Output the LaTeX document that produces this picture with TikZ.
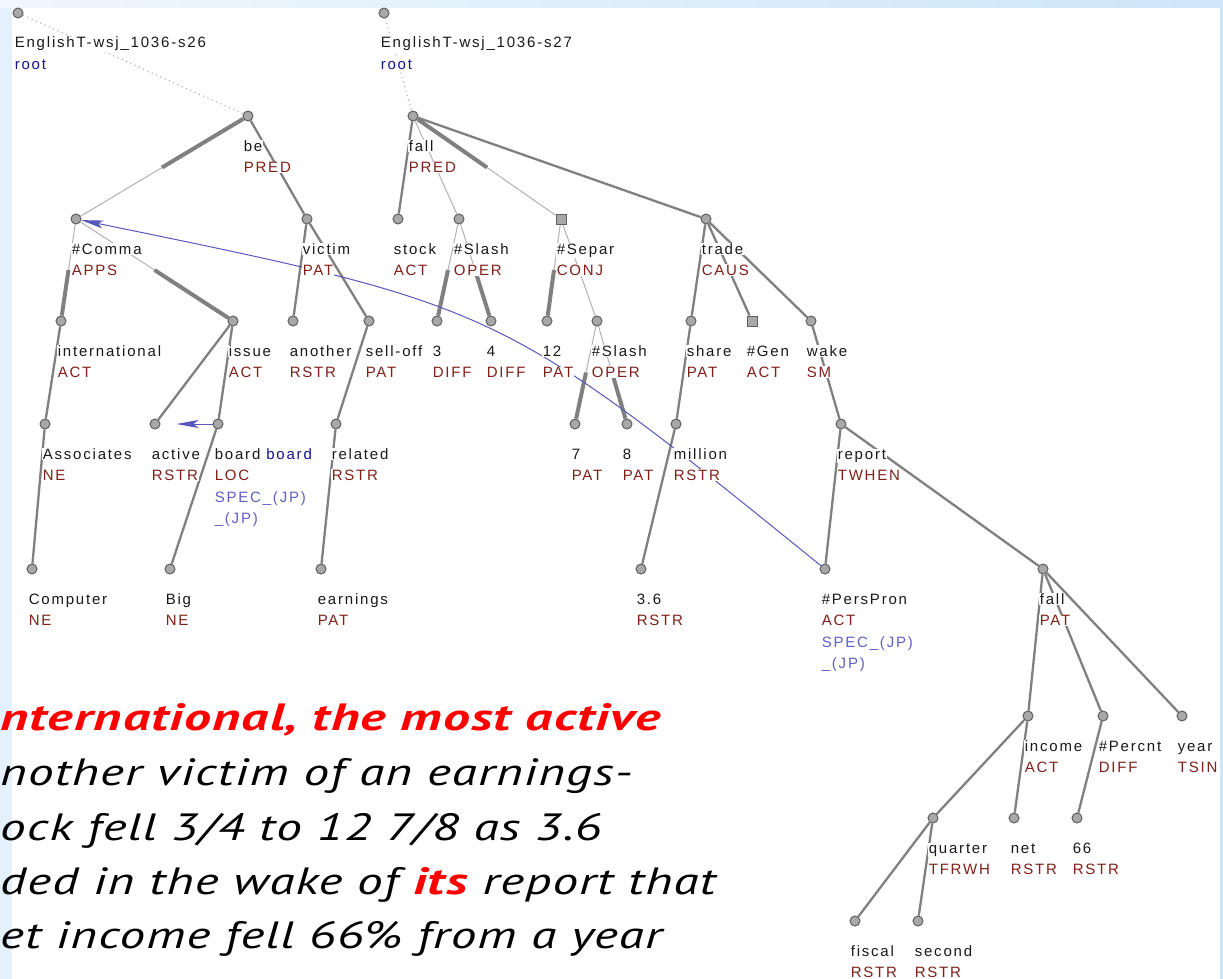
\documentclass[tikz,border=0pt]{standalone}
\usepackage{fontspec}
\setmainfont{Liberation Sans}
\newfontfamily\labfont[LetterSpace=12]{Liberation Sans}
\newfontfamily\sentfont[FakeStretch=1.35,LetterSpace=3]{PT Sans Italic}
\newfontfamily\sentbold[FakeStretch=1.42,LetterSpace=3]{PT Sans Bold Italic}
\usetikzlibrary{calc,arrows.meta}

\definecolor{lemma}{RGB}{25,25,25}
\definecolor{functor}{RGB}{128,32,24}
\definecolor{rootblue}{RGB}{20,20,140}
\definecolor{specblue}{RGB}{95,95,200}
\definecolor{edgegray}{RGB}{128,128,128}
\definecolor{thingray}{RGB}{178,178,178}
\definecolor{dotgray}{RGB}{170,170,170}
\definecolor{nodefill}{RGB}{168,168,168}
\definecolor{nodeline}{RGB}{95,95,95}
\definecolor{corefblue}{RGB}{88,88,188}
\definecolor{bandleft}{RGB}{240,247,253}
\definecolor{bandright}{RGB}{205,230,248}
\definecolor{bandside}{RGB}{228,240,251}

% white box behind each label line, so edges stop at the text
\newcommand\wb[1]{{\setlength{\fboxsep}{0.6pt}\colorbox{white}{#1}}}
% lemma over functor
\newcommand\lf[2]{\begin{tabular}[t]{@{}l@{}}\wb{#1}\\\wb{\color{functor}#2}\end{tabular}}

% tree edges
\newcommand\edgeM[2]{\draw[emed] (#1) -- (#2);}
\newcommand\edgeT[2]{\draw[ethin] (#1) -- (#2);}
\newcommand\edgeD[2]{\draw[edot] (#1) -- (#2);}
% coordination member: thin half at the parent, thick half at the child
\newcommand\edgeK[2]{\draw[ethin] (#1) -- ($(#1)!.5!(#2)$);\draw[ethick] ($(#1)!.5!(#2)$) -- (#2);}
% coordination head: thick half at the parent, thin half at the child
\newcommand\edgeH[2]{\draw[ethick] (#1) -- ($(#1)!.5!(#2)$);\draw[ethin] ($(#1)!.5!(#2)$) -- (#2);}

\pgfdeclarelayer{back}
\pgfdeclarelayer{edges}
\pgfsetlayers{back,edges,main}

\begin{document}
\begin{tikzpicture}[x=1pt,y=-1pt,
  tnode/.style={circle,fill=nodefill,draw=nodeline,line width=1pt,minimum size=10pt,inner sep=0pt},
  tsq/.style={rectangle,fill=nodefill,draw=nodeline,line width=1pt,minimum size=10pt,inner sep=0pt},
  emed/.style={draw=edgegray,line width=2.3pt},
  ethick/.style={draw=edgegray,line width=4pt},
  ethin/.style={draw=thingray,line width=1pt},
  edot/.style={draw=dotgray,line width=1.1pt,dash pattern=on 1.1pt off 3.6pt},
  coref/.style={draw=corefblue,line width=1pt,-{Stealth[length=22pt,width=8pt,inset=5pt]}},
  lab/.style={anchor=base west,inner sep=0pt,text=lemma,font=\labfont\fontsize{15}{21.5}\selectfont},
  sent/.style={anchor=base west,inner sep=0pt,font=\sentfont\fontsize{38}{44}\selectfont}
]
\useasboundingbox (0,0) rectangle (1223,979);

% slide frame
\begin{pgfonlayer}{back}
  \fill[bandside] (0,0) rectangle (1223,979);
  \shade[left color=bandleft,right color=bandright] (0,0) rectangle (1223,8);
  \fill[bandright] (1220,8) rectangle (1223,979);
  \fill[white] (12,8) rectangle (1220,979);
\end{pgfonlayer}

% ---------- first sentence: s26 ----------
\node[tnode] (r1) at (18,13) {};
\node[tnode] (be) at (248,116) {};
\node[tnode] (comma) at (76,219) {};
\node[tnode] (victim) at (307,219) {};
\node[tnode] (intl) at (61,321) {};
\node[tnode] (issue) at (233,321) {};
\node[tnode] (another) at (293,321) {};
\node[tnode] (selloff) at (369,321) {};
\node[tnode] (assoc) at (45,424) {};
\node[tnode] (active) at (155,424) {};
\node[tnode] (board) at (218,424) {};
\node[tnode] (related) at (336,424) {};
\node[tnode] (computer) at (32,569) {};
\node[tnode] (big) at (170,569) {};
\node[tnode] (earnings) at (321,569) {};

% ---------- second sentence: s27 ----------
\node[tnode] (r2) at (384,13) {};
\node[tnode] (fall) at (413,116) {};
\node[tnode] (stock) at (398,219) {};
\node[tnode] (slash) at (459,219) {};
\node[tsq]   (separ) at (561,219) {};
\node[tnode] (trade) at (706,219) {};
\node[tnode] (three) at (437,321) {};
\node[tnode] (four) at (491,321) {};
\node[tnode] (twelve) at (547,321) {};
\node[tnode] (slashb) at (597,321) {};
\node[tnode] (share) at (691,321) {};
\node[tsq]   (gen) at (752,321) {};
\node[tnode] (wake) at (811,321) {};
\node[tnode] (seven) at (575,424) {};
\node[tnode] (eight) at (627,424) {};
\node[tnode] (million) at (676,424) {};
\node[tnode] (report) at (841,424) {};
\node[tnode] (threesix) at (641,569) {};
\node[tnode] (perspron) at (825,569) {};
\node[tnode] (fallb) at (1043,569) {};
\node[tnode] (income) at (1028,716) {};
\node[tnode] (percnt) at (1103,716) {};
\node[tnode] (year) at (1182,716) {};
\node[tnode] (quarter) at (933,818) {};
\node[tnode] (net) at (1014,818) {};
\node[tnode] (sixtysix) at (1077,818) {};
\node[tnode] (fiscal) at (855,921) {};
\node[tnode] (second) at (918,921) {};

% ---------- edges ----------
\begin{pgfonlayer}{edges}
  \edgeD{r1}{be}
  \edgeH{be}{comma}
  \edgeM{be}{victim}
  \edgeK{comma}{intl}
  \edgeK{comma}{issue}
  \edgeM{intl}{assoc}
  \edgeM{assoc}{computer}
  \edgeM{issue}{active}
  \edgeM{issue}{board}
  \edgeM{board}{big}
  \edgeM{victim}{another}
  \edgeM{victim}{selloff}
  \edgeM{selloff}{related}
  \edgeM{related}{earnings}

  \edgeD{r2}{fall}
  \edgeM{fall}{stock}
  \edgeT{fall}{slash}
  \edgeH{fall}{separ}
  \edgeM{fall}{trade}
  \edgeK{slash}{three}
  \edgeK{slash}{four}
  \edgeK{separ}{twelve}
  \edgeT{separ}{slashb}
  \edgeK{slashb}{seven}
  \edgeK{slashb}{eight}
  \edgeM{trade}{share}
  \edgeM{trade}{gen}
  \edgeM{trade}{wake}
  \edgeM{share}{million}
  \edgeM{million}{threesix}
  \edgeM{wake}{report}
  \edgeM{report}{perspron}
  \edgeM{report}{fallb}
  \edgeM{fallb}{income}
  \edgeM{fallb}{percnt}
  \edgeM{fallb}{year}
  \edgeM{income}{quarter}
  \edgeM{income}{net}
  \edgeM{percnt}{sixtysix}
  \edgeM{quarter}{fiscal}
  \edgeM{quarter}{second}

  % coreference arrows
  \draw[coref,shorten >=16pt] (board) -- (active);
  \draw[coref] (perspron) .. controls (500,306) .. (comma);
\end{pgfonlayer}

% ---------- labels ----------
\node[lab] (r1-t) at ($(r1)+(-4,35)$) {\begin{tabular}[t]{@{}l@{}}\wb{EnglishT-wsj\_1036-s26}\\\wb{\color{rootblue}root}\end{tabular}};
\node[lab] (be-t) at ($(be)+(-5,35)$) {\lf{be}{PRED}};
\node[lab] (comma-t) at ($(comma)+(-5,35)$) {\lf{\#Comma}{APPS}};
\node[lab] (victim-t) at ($(victim)+(-5,35)$) {\lf{victim}{PAT}};
\node[lab] (intl-t) at ($(intl)+(-4,35)$) {\lf{international}{ACT}};
\node[lab] (issue-t) at ($(issue)+(-5,35)$) {\lf{issue}{ACT}};
\node[lab] (another-t) at ($(another)+(-4,35)$) {\lf{another}{RSTR}};
\node[lab] (selloff-t) at ($(selloff)+(-4,35)$) {\lf{sell-off}{PAT}};
\node[lab] (assoc-t) at ($(assoc)+(-3,35)$) {\lf{Associates}{NE}};
\node[lab] (active-t) at ($(active)+(-4,35)$) {\lf{active}{RSTR}};
\node[lab] (board-t) at ($(board)+(-4,35)$) {\begin{tabular}[t]{@{}l@{}}\wb{board \textcolor{rootblue}{board}}\\\wb{\color{functor}LOC}\\\wb{\color{specblue}SPEC\_(JP)}\\\wb{\color{specblue}\_(JP)}\end{tabular}};
\node[lab] (related-t) at ($(related)+(-5,35)$) {\lf{related}{RSTR}};
\node[lab] (computer-t) at ($(computer)+(-4,35)$) {\lf{Computer}{NE}};
\node[lab] (big-t) at ($(big)+(-5,35)$) {\lf{Big}{NE}};
\node[lab] (earnings-t) at ($(earnings)+(-4,35)$) {\lf{earnings}{PAT}};

\node[lab] (r2-t) at ($(r2)+(-4,35)$) {\begin{tabular}[t]{@{}l@{}}\wb{EnglishT-wsj\_1036-s27}\\\wb{\color{rootblue}root}\end{tabular}};
\node[lab] (fall-t) at ($(fall)+(-5,35)$) {\lf{fall}{PRED}};
\node[lab] (stock-t) at ($(stock)+(-5,35)$) {\lf{stock}{ACT}};
\node[lab] (slash-t) at ($(slash)+(-6,35)$) {\lf{\#Slash}{OPER}};
\node[lab] (separ-t) at ($(separ)+(-5,35)$) {\lf{\#Separ}{CONJ}};
\node[lab] (trade-t) at ($(trade)+(-5,35)$) {\lf{trade}{CAUS}};
\node[lab] (three-t) at ($(three)+(-5,35)$) {\lf{3}{DIFF}};
\node[lab] (four-t) at ($(four)+(-5,35)$) {\lf{4}{DIFF}};
\node[lab] (twelve-t) at ($(twelve)+(-5,35)$) {\lf{12}{PAT}};
\node[lab] (slashb-t) at ($(slashb)+(-6,35)$) {\lf{\#Slash}{OPER}};
\node[lab] (share-t) at ($(share)+(-5,35)$) {\lf{share}{PAT}};
\node[lab] (gen-t) at ($(gen)+(-6,35)$) {\lf{\#Gen}{ACT}};
\node[lab] (wake-t) at ($(wake)+(-5,35)$) {\lf{wake}{SM}};
\node[lab] (seven-t) at ($(seven)+(-4,35)$) {\lf{7}{PAT}};
\node[lab] (eight-t) at ($(eight)+(-5,35)$) {\lf{8}{PAT}};
\node[lab] (million-t) at ($(million)+(-3,35)$) {\lf{million}{RSTR}};
\node[lab] (report-t) at ($(report)+(-4,35)$) {\lf{report}{TWHEN}};
\node[lab] (threesix-t) at ($(threesix)+(-5,35)$) {\lf{3.6}{RSTR}};
\node[lab] (perspron-t) at ($(perspron)+(-4,35)$) {\begin{tabular}[t]{@{}l@{}}\wb{\#PersPron}\\\wb{\color{functor}ACT}\\\wb{\color{specblue}SPEC\_(JP)}\\\wb{\color{specblue}\_(JP)}\end{tabular}};
\node[lab] (fallb-t) at ($(fallb)+(-4,35)$) {\lf{fall}{PAT}};
\node[lab] (income-t) at ($(income)+(-4,35)$) {\lf{income}{ACT}};
\node[lab] (percnt-t) at ($(percnt)+(-5,35)$) {\lf{\#Percnt}{DIFF}};
\node[lab] (year-t) at ($(year)+(-5,35)$) {\lf{year}{TSIN}};
\node[lab] (quarter-t) at ($(quarter)+(-5,35)$) {\lf{quarter}{TFRWH}};
\node[lab] (net-t) at ($(net)+(-4,35)$) {\lf{net}{RSTR}};
\node[lab] (sixtysix-t) at ($(sixtysix)+(-5,35)$) {\lf{66}{RSTR}};
\node[lab] (fiscal-t) at ($(fiscal)+(-5,35)$) {\lf{fiscal}{RSTR}};
\node[lab] (second-t) at ($(second)+(-4,35)$) {\lf{second}{RSTR}};

% ---------- sentence text ----------
\node[sent,text=red,font=\sentbold\fontsize{38}{44}\selectfont] (line1) at (0,730) {nternational, the most active};
\node[sent] (line2) at (0,785) {nother victim of an earnings-};
\node[sent] (line3) at (0,840) {ock fell 3/4 to 12 7/8 as 3.6};
\node[sent] (line4) at (0,894) {ded in the wake of \textcolor{red}{\sentbold its} report that};
\node[sent] (line5) at (0,948) {et income fell 66\% from a year};
\end{tikzpicture}
\end{document}
